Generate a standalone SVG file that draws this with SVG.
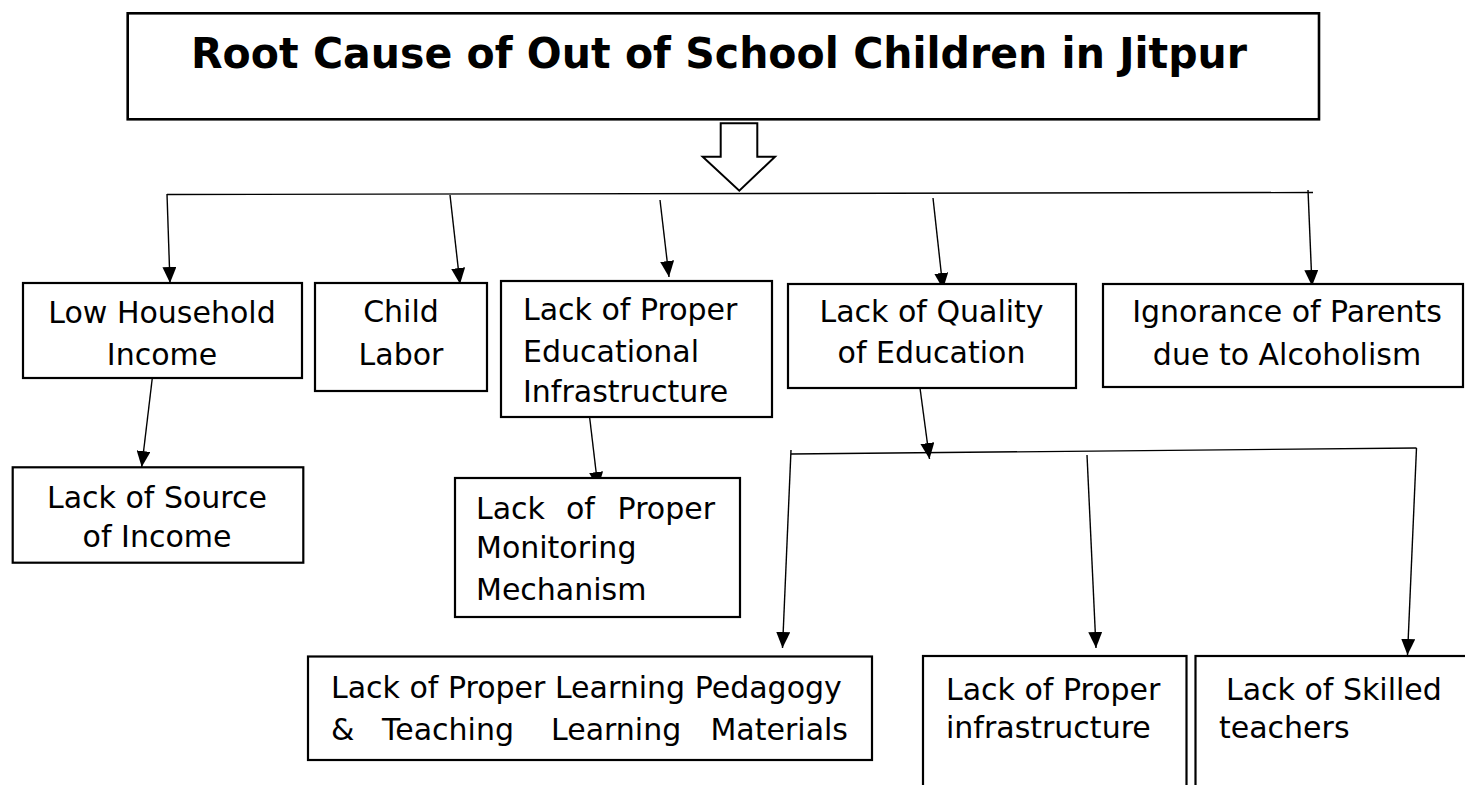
<svg xmlns="http://www.w3.org/2000/svg" width="1465" height="785" viewBox="0 0 1465 785">
<style>
.bg{fill:#fff}
.box{fill:#fff;stroke:#000;stroke-width:2.2}
.t{font-family:"DejaVu Sans","Liberation Sans",sans-serif;font-size:30px;fill:#000}
.c{text-anchor:middle}
.title{font-family:"DejaVu Sans","Liberation Sans",sans-serif;font-size:43px;font-weight:bold;fill:#000}
.ln{fill:none;stroke:#000;stroke-width:1.4}
.arr{fill:none;stroke:#000;stroke-width:1.4;marker-end:url(#ah)}
</style>
<defs>
<marker id="ah" viewBox="0 0 16 14" refX="16" refY="7" markerWidth="16" markerHeight="14" markerUnits="userSpaceOnUse" orient="auto">
<path d="M0,0 L16,7 L0,14 Z" fill="#000"/>
</marker>
</defs>
<rect class="bg" x="0" y="0" width="1465" height="785"/>

<g id="root">
<rect x="127.7" y="13.3" width="1191.3" height="106" fill="#fff" stroke="#000" stroke-width="2.6"/>
<text class="title" x="191" y="68" textLength="1056" lengthAdjust="spacingAndGlyphs">Root Cause of Out of School Children in Jitpur</text>
</g>

<g id="block-arrow">
<path d="M720.7,123.3 L757.3,123.3 L757.3,156.7 L775,156.7 L739.3,190.7 L702.7,156.7 L720.7,156.7 Z" fill="#fff" stroke="#000" stroke-width="2"/>
</g>

<g id="connectors">
<path class="ln" d="M167,194.5 L1313,192.5"/>
<path class="arr" d="M167,194 L170,283"/>
<path class="arr" d="M450,195 L460,284"/>
<path class="arr" d="M660,200 L669,277"/>
<path class="arr" d="M933,198 L943,289"/>
<path class="arr" d="M1308,190 L1312,286"/>
<path class="arr" d="M152.3,378 L141.7,467"/>
<path class="arr" d="M589,412 L598,488"/>
<path class="arr" d="M920,388 L929.5,459"/>
<path class="ln" d="M791,454 L1416.5,448"/>
<path class="arr" d="M791,450 L782.5,648"/>
<path class="arr" d="M1087,455 L1096,648"/>
<path class="arr" d="M1416.5,448 L1407.5,655"/>
</g>

<g id="n-low-income">
<rect class="box" x="23" y="283" width="279" height="95"/>
<text class="t c" x="162" y="323">Low Household</text>
<text class="t c" x="162" y="365">Income</text>
</g>

<g id="n-child-labor">
<rect class="box" x="315" y="283" width="172" height="108"/>
<text class="t c" x="401" y="322">Child</text>
<text class="t c" x="401" y="365">Labor</text>
</g>

<g id="n-edu-infra">
<rect class="box" x="501" y="281" width="271" height="136"/>
<text class="t" x="523" y="320">Lack of Proper</text>
<text class="t" x="523" y="362">Educational</text>
<text class="t" x="523" y="402">Infrastructure</text>
</g>

<g id="n-quality">
<rect class="box" x="788" y="284" width="288" height="104"/>
<text class="t c" x="931.5" y="322">Lack of Quality</text>
<text class="t c" x="931.5" y="363">of Education</text>
</g>

<g id="n-ignorance">
<rect class="box" x="1103" y="284" width="360" height="103"/>
<text class="t c" x="1287" y="322">Ignorance of Parents</text>
<text class="t c" x="1287" y="365">due to Alcoholism</text>
</g>

<g id="n-source-income">
<rect class="box" x="12.7" y="467.3" width="290.6" height="95.4"/>
<text class="t c" x="157" y="508">Lack of Source</text>
<text class="t c" x="157" y="547">of Income</text>
</g>

<g id="n-monitoring">
<rect class="box" x="455" y="478" width="285" height="139"/>
<text class="t" y="519"><tspan x="476">Lack</tspan> <tspan x="566">of</tspan> <tspan x="715" text-anchor="end">Proper</tspan></text>
<text class="t" x="476" y="558">Monitoring</text>
<text class="t" x="476" y="600">Mechanism</text>
</g>

<g id="n-pedagogy">
<rect class="box" x="308" y="656.5" width="564" height="103.5"/>
<text class="t" x="331" y="698">Lack of Proper Learning Pedagogy</text>
<text class="t" y="740"><tspan x="331">&amp;</tspan> <tspan x="382">Teaching</tspan> <tspan x="551">Learning</tspan> <tspan x="848" text-anchor="end">Materials</tspan></text>
</g>

<g id="n-infrastructure">
<rect class="box" x="923" y="656" width="263.5" height="150"/>
<text class="t" x="946" y="700">Lack of Proper</text>
<text class="t" x="946" y="738">infrastructure</text>
</g>

<g id="n-skilled">
<rect class="box" x="1195.5" y="656" width="280" height="150"/>
<text class="t" x="1226" y="700">Lack of Skilled</text>
<text class="t" x="1219" y="738">teachers</text>
</g>
</svg>
